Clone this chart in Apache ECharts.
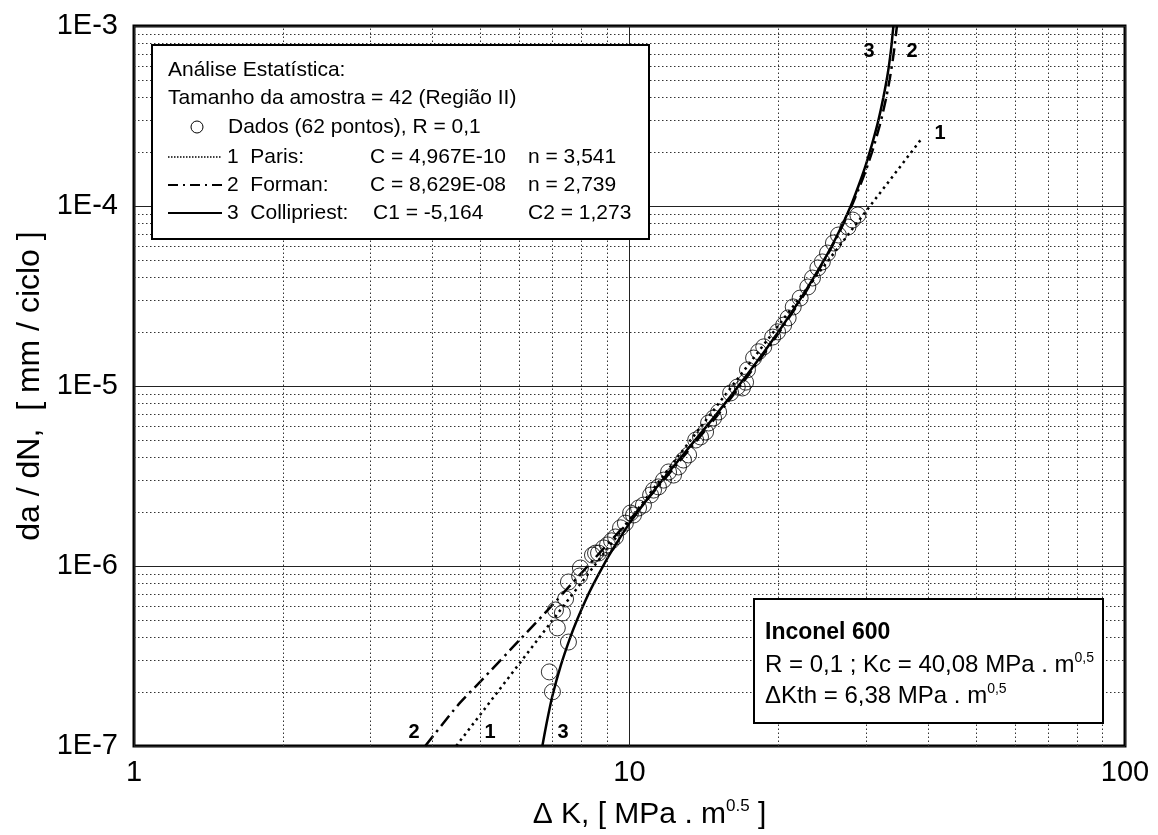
<!DOCTYPE html>
<html>
<head>
<meta charset="utf-8">
<script src="https://cdn.jsdelivr.net/npm/echarts@6/dist/echarts.min.js"></script>
<style>
  html, body { margin: 0; padding: 0; background: #fff; }
  #main { width: 1158px; height: 835px; }
</style>
</head>
<body>
<div id="main"></div>
<script>
// dados (ΔK em MPa.m^0.5, da/dN em mm/ciclo)
var dK = [6.99, 6.89, 7.53, 7.15, 7.09, 7.32, 7.43, 7.53, 7.93, 7.96,
          8.42, 8.54, 8.66, 8.86, 9.03, 9.2, 9.37, 9.59, 9.81, 10.05,
          10.19, 10.43, 10.67, 11.03, 11.18, 11.44, 11.71, 11.99, 12.27, 12.56,
          12.85, 13.16, 13.6, 13.91, 14.24, 14.44, 14.78, 15.13, 16.0, 16.5,
          16.9, 17.15, 17.3, 17.8, 18.22, 18.66, 19.45, 19.9, 20.47, 20.9,
          21.4, 22.1, 22.9, 23.4, 24.0, 24.5, 25.1, 25.8, 26.4, 27.6,
          28.2, 28.9];
var dadN = [2.0e-7, 2.58e-7, 3.78e-7, 4.53e-7, 5.7e-7, 5.48e-7, 6.56e-7, 8.15e-7, 8.8e-7, 9.75e-7,
            1.15e-6, 1.18e-6, 1.18e-6, 1.26e-6, 1.31e-6, 1.38e-6, 1.45e-6, 1.63e-6, 1.73e-6, 1.97e-6,
            1.92e-6, 2.1e-6, 2.18e-6, 2.48e-6, 2.64e-6, 2.75e-6, 3.0e-6, 3.33e-6, 3.2e-6, 3.55e-6,
            3.88e-6, 4.14e-6, 5.01e-6, 5.21e-6, 5.55e-6, 6.23e-6, 6.64e-6, 7.17e-6, 9.15e-6, 9.87e-6,
            9.75e-6, 1.05e-5, 1.23e-5, 1.43e-5, 1.55e-5, 1.65e-5, 1.87e-5, 2.0e-5, 2.18e-5, 2.39e-5,
            2.75e-5, 3.08e-5, 3.55e-5, 3.98e-5, 4.53e-5, 4.89e-5, 5.48e-5, 6.23e-5, 6.9e-5, 7.64e-5,
            8.36e-5, 8.91e-5];

// curvas ajustadas
var parisK = [4.47, 38.7];
var parisRate = [1e-7, 2.33e-4];
var formanK = [3.87, 4.5, 5, 6, 7, 8.5, 10, 12.5, 15, 17.5, 20, 22.5, 25, 26.5, 28, 29, 30, 31, 32, 32.5, 33, 33.5, 34, 34.25, 34.65];
var formanRate = [1e-7, 1.68e-7, 2.28e-7, 3.88e-7, 6.1e-7, 1.1e-6, 1.8e-6, 3.7e-6, 6.8e-6, 1.18e-5, 1.97e-5, 3.21e-5, 5.26e-5,
                  7.13e-5, 9.83e-5, 1.24e-4, 1.58e-4, 2.07e-4, 2.81e-4, 3.35e-4, 4.05e-4, 5.04e-4, 6.53e-4, 7.58e-4, 1e-3];
var collK = [6.67, 6.8, 6.99, 7.26, 7.6, 7.85, 8.15, 8.42, 8.81, 9.1, 9.5, 10, 11, 12, 13, 15, 17.5, 20, 22.5, 25,
             26.5, 27.96, 29, 30, 31, 31.8, 32.5, 33.2, 33.7, 34.0, 34.1];
var collRate = [1e-7, 1.33e-7, 1.9e-7, 2.78e-7, 4.04e-7, 5.08e-7, 6.44e-7, 7.75e-7, 9.8e-7, 1.15e-6, 1.39e-6, 1.73e-6,
                2.46e-6, 3.32e-6, 4.34e-6, 7.0e-6, 1.21e-5, 2.01e-5, 3.27e-5, 5.32e-5, 7.24e-5, 1.0e-4, 1.3e-4, 1.7e-4,
                2.3e-4, 3.0e-4, 3.95e-4, 5.43e-4, 7.32e-4, 9.3e-4, 1e-3];

var xMin = 1, xMax = 100, yMin = 1e-7, yMax = 1e-3;
var xDecades = [1, 10];
var yDecades = [1e-7, 1e-6, 1e-5, 1e-4];
var minorSteps = [2, 3, 4, 5, 6, 7, 8, 9];

function pairs(a, b) {
    var out = [];
    for (var i = 0; i < a.length; i++) out.push([a[i], b[i]]);
    return out;
}

// linhas de grade secundarias (pontilhadas)
var minorLines = [];
xDecades.forEach(function (d) {
    minorSteps.forEach(function (s) {
        minorLines.push([{ coord: [d * s, yMin] }, { coord: [d * s, yMax] }]);
    });
});
yDecades.forEach(function (d) {
    minorSteps.forEach(function (s) {
        minorLines.push([{ coord: [xMin, d * s] }, { coord: [xMax, d * s] }]);
    });
});

var myChart = echarts.init(document.getElementById('main'));
var fonte = 'Liberation Sans, Arial, sans-serif';

function txt(x, y, s, size, bold) {
    return { type: 'text', z: 101, x: x, y: y,
        style: { text: s, font: (bold ? 'bold ' : '') + size + 'px ' + fonte, fill: '#000', verticalAlign: 'middle' } };
}
function supTxt(x, y, s, size) {
    return { type: 'text', z: 101, x: x, y: y,
        style: { text: s, font: size + 'px ' + fonte, fill: '#000', verticalAlign: 'middle',
            rich: { s: { fontSize: 14, fontFamily: fonte, fill: '#000', verticalAlign: 'top', padding: [0, 0, 14, 0] } } } };
}
function curveLbl(x, y, s) {
    return { type: 'text', z: 50, x: x, y: y,
        style: { text: s, font: 'bold 20px ' + fonte, fill: '#000', align: 'center', verticalAlign: 'middle' } };
}

var option = {
    animation: false,
    backgroundColor: '#fff',
    grid: {
        left: 134, right: 33, top: 26, bottom: 89,
        show: true, borderColor: '#000', borderWidth: 3, backgroundColor: 'transparent'
    },
    xAxis: {
        type: 'log', logBase: 10, min: xMin, max: xMax,
        axisLine: { show: false },
        axisTick: { show: false },
        axisLabel: { fontSize: 29, color: '#000', fontFamily: fonte, margin: 12 },
        splitLine: { show: true, lineStyle: { color: '#222', width: 1 } },
        name: 'Δ K, [ MPa . m{sup|0.5} ]',
        nameLocation: 'middle',
        nameGap: 52,
        nameTextStyle: {
            fontSize: 30, color: '#000', fontFamily: fonte, padding: [0, 0, 0, 40],
            rich: { sup: { fontSize: 17, color: '#000', fontFamily: fonte, verticalAlign: 'top', padding: [0, 0, 16, 0] } }
        }
    },
    yAxis: {
        type: 'log', logBase: 10, min: yMin, max: yMax,
        axisLine: { show: false },
        axisTick: { show: false },
        axisLabel: {
            fontSize: 29, color: '#000', fontFamily: fonte, margin: 16,
            formatter: function (v) { return '1E' + Math.round(Math.log10(v)); }
        },
        splitLine: { show: true, lineStyle: { color: '#222', width: 1 } },
        name: 'da / dN,  [ mm / ciclo ]',
        nameLocation: 'middle',
        nameGap: 78,
        nameTextStyle: { fontSize: 32, color: '#000', fontFamily: fonte }
    },
    series: [
        {
            type: 'line', data: [], silent: true,
            markLine: {
                silent: true, symbol: 'none', label: { show: false },
                lineStyle: { color: '#333', width: 1, type: [1.5, 2.5] },
                data: minorLines
            }
        },
        {
            name: 'Paris', type: 'line', showSymbol: false,
            data: pairs(parisK, parisRate),
            lineStyle: { color: '#000', width: 2.5, type: [2.5, 4] }
        },
        {
            name: 'Forman', type: 'line', showSymbol: false, smooth: 0.2,
            data: pairs(formanK, formanRate),
            lineStyle: { color: '#000', width: 2.5, type: [13, 5, 2.5, 5] }
        },
        {
            name: 'Collipriest', type: 'line', showSymbol: false, smooth: 0.2,
            data: pairs(collK, collRate),
            lineStyle: { color: '#000', width: 2.5 }
        },
        {
            name: 'Dados', type: 'scatter', symbol: 'circle', symbolSize: 16,
            data: pairs(dK, dadN),
            itemStyle: { color: 'rgba(255,255,255,0)', borderColor: '#000', borderWidth: 1 }
        }
    ],
    graphic: [
        // caixa de legenda - analise estatistica
        { type: 'rect', z: 100, shape: { x: 152, y: 45, width: 497, height: 194 },
          style: { fill: '#fff', stroke: '#000', lineWidth: 2 } },
        txt(168, 70, 'Análise Estatística:', 21),
        txt(168, 98, 'Tamanho da amostra = 42 (Região II)', 21),
        { type: 'circle', z: 101, shape: { cx: 197, cy: 127, r: 6 }, style: { fill: '#fff', stroke: '#000', lineWidth: 1 } },
        txt(228, 127, 'Dados (62 pontos), R = 0,1', 21),
        { type: 'line', z: 101, shape: { x1: 168, y1: 157, x2: 222, y2: 157 }, style: { stroke: '#000', lineWidth: 1.5, lineDash: [1.5, 1.5] } },
        txt(227, 157, '1  Paris:', 21),
        txt(370, 157, 'C = 4,967E-10', 21),
        txt(528, 157, 'n = 3,541', 21),
        { type: 'line', z: 101, shape: { x1: 168, y1: 185, x2: 222, y2: 185 }, style: { stroke: '#000', lineWidth: 2, lineDash: [10, 5, 2, 5] } },
        txt(227, 185, '2  Forman:', 21),
        txt(370, 185, 'C = 8,629E-08', 21),
        txt(528, 185, 'n = 2,739', 21),
        { type: 'line', z: 101, shape: { x1: 168, y1: 213, x2: 222, y2: 213 }, style: { stroke: '#000', lineWidth: 2 } },
        txt(227, 213, '3  Collipriest:', 21),
        txt(373, 213, 'C1 = -5,164', 21),
        txt(528, 213, 'C2 = 1,273', 21),

        // caixa do material
        { type: 'rect', z: 100, shape: { x: 754, y: 599, width: 349, height: 124 },
          style: { fill: '#fff', stroke: '#000', lineWidth: 2 } },
        txt(765, 633, 'Inconel 600', 23, true),
        supTxt(765, 665, 'R = 0,1 ; Kc = 40,08 MPa . m{s|0,5}', 24),
        supTxt(765, 696, 'ΔKth = 6,38 MPa . m{s|0,5}', 24),

        // rotulos das curvas
        curveLbl(414, 732, '2'),
        curveLbl(490, 732, '1'),
        curveLbl(563, 732, '3'),
        curveLbl(869, 51, '3'),
        curveLbl(912, 51, '2'),
        curveLbl(940, 133, '1')
    ]
};

myChart.setOption(option);
</script>
</body>
</html>
